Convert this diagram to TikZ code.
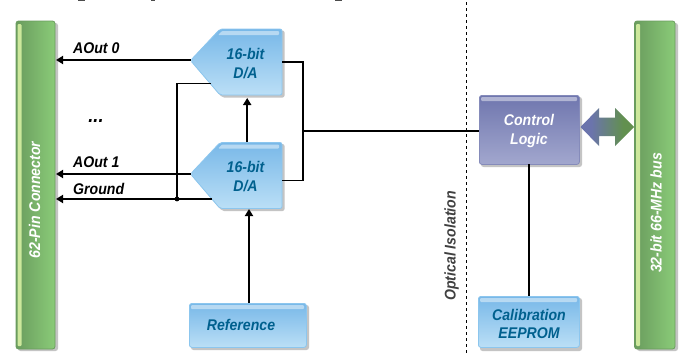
\documentclass[tikz,border=0pt]{standalone}
\usepackage{fontspec}
\setmainfont[FakeStretch=0.91]{Liberation Sans}
\usetikzlibrary{arrows.meta,calc}
\definecolor{bluetop}{HTML}{78B8E8}
\definecolor{bluebot}{HTML}{BBDFF6}
\definecolor{blueedge}{HTML}{8CC6EE}
\definecolor{bluetext}{HTML}{00608E}
\definecolor{shadowc}{HTML}{C4C4C4}
\definecolor{greenl}{HTML}{6A9C5E}
\definecolor{greenr}{HTML}{8ACB78}
\definecolor{greenhi}{HTML}{CDE89C}
\definecolor{purpt}{HTML}{6F76AE}
\definecolor{purpb}{HTML}{A2A7CE}
\definecolor{arrowp}{HTML}{6B74AC}
\definecolor{arrowg}{HTML}{62904F}
\pgfdeclarehorizontalshading{dblarrow}{100bp}{
  color(0bp)=(arrowp); color(35bp)=(arrowp); color(65bp)=(arrowg); color(100bp)=(arrowg)}
\newcommand{\labfont}{\fontsize{15.5}{19}\selectfont\bfseries\itshape}
\tikzset{
  x=1pt,y=-1pt,
  wire/.style={draw=black,line width=1.8pt},
  arrowed/.style={wire,-{Triangle[length=7pt,width=8pt]}},
  lab/.style={font=\labfont,inner sep=0pt},
  dacshape/.style={top color=bluetop,bottom color=bluebot,draw=blueedge,line width=.8pt,rounded corners=2pt},
  bluebox/.style={top color=bluetop,bottom color=bluebot,draw=blueedge,line width=.8pt,rounded corners=2.5pt,inner sep=0pt,
     font=\labfont,text=bluetext,align=center},
  purpbox/.style={top color=purpt,bottom color=purpb,draw=purpt!85!white,line width=.8pt,rounded corners=2.5pt,inner sep=0pt,
     font=\labfont,text=white,align=center},
  greenbar/.style={left color=greenl,right color=greenr,draw=greenl,line width=.8pt,rounded corners=2.5pt,inner sep=0pt},
  shine/.style={fill=white,opacity=.45,draw=none,rounded corners=1pt},
  barhi/.style={fill=greenhi,draw=none,rounded corners=1pt},
  barlabel/.style={font=\labfont,text=white,inner sep=0pt,rotate=90},
  shadowbox/.style={fill=shadowc,draw=none,rounded corners=2.5pt},
}
\newcommand{\dacunit}[2]{%
  \fill[shadowc,rounded corners=2pt] (192,#2+31.5+1.5) -- (222,#2+1.5) -- (284.5,#2+1.5) -- (284.5,#2+68.5) -- (222,#2+68.5) -- cycle;
  \path[dacshape] (190.5,#2+31.5) -- (220,#2) -- (282,#2) -- (282,#2+66) -- (220,#2+66) -- cycle;
  \fill[shine] (222,#2+2) -- (279,#2+2) -- (279,#2+6) -- (218,#2+6) -- cycle;
  \node[inner sep=0pt,minimum width=91.5pt,minimum height=66pt,anchor=north west] (#1) at (190.5,#2) {};
  \node[font=\labfont,text=bluetext,align=center,inner sep=0pt] (#1t) at (245.5,#2+34.5) {16-bit\\D/A};
}
\begin{document}
\begin{tikzpicture}
\useasboundingbox (0,0) rectangle (680,356);
\fill[white] (0,0) rectangle (680,356);
% remains of the cut-off top edge
\fill[black!70] (78,0) rectangle (85,1);
\fill[black!70] (151,0) rectangle (155,1.4);
\fill[black!70] (335,0) rectangle (342,1);
% connector bars
\fill[shadowbox] (18,23) rectangle (58,351);
\path[greenbar] (16,21) rectangle (55,349);
\fill[barhi] (17.5,24) rectangle (21.5,346);
\node[barlabel] (conn) at (34.5,200) {62-Pin Connector};
\coordinate (connA0) at (56,60);
\coordinate (connA1) at (56,174);
\coordinate (connG) at (56,199);
\fill[shadowbox] (637,23) rectangle (678,351);
\path[greenbar] (634.5,21) rectangle (675,349);
\fill[barhi] (636,24) rectangle (640,346);
\node[barlabel] (bus) at (656,213) {32-bit 66-MHz bus};
% DACs
\dacunit{dacA}{29}
\dacunit{dacB}{142.5}
% Reference
\fill[shadowbox] (191,305) rectangle (309,350);
\node[bluebox,minimum width=117pt,minimum height=44pt,anchor=north west] (ref) at (189,303) {};
\fill[shine] (191,305) rectangle (304,309);
\node[font=\labfont,text=bluetext,inner sep=0pt] (reft) at (241,325) {Reference};
% Control logic
\fill[shadowbox] (481,97) rectangle (582,167);
\node[purpbox,minimum width=100pt,minimum height=69pt,anchor=north west] (ctl) at (479,95) {};
\fill[shine] (481,97) rectangle (577,101);
\node[font=\labfont,text=white,align=center,inner sep=0pt] (ctlt) at (529,130.5) {Control\\Logic};
% EEPROM
\fill[shadowbox] (480,298) rectangle (582,351);
\node[bluebox,minimum width=101pt,minimum height=51pt,anchor=north west] (eep) at (478,296) {};
\fill[shine] (480,298) rectangle (577,302);
\node[font=\fontsize{15.5}{18}\selectfont\bfseries\itshape,text=bluetext,align=center,inner sep=0pt] (eept) at (529,324) {Calibration\\EEPROM};
% double arrow
\coordinate (dal) at (580.5,127);
\coordinate (dar) at (634,127);
\shade[shading=dblarrow]
  (dal) -- (599,108) -- (599,117.5) -- (615,117.5) -- (615,108) -- (dar) -- (615,146) -- (615,136) -- (599,136) -- (599,146) -- cycle;
% wires
\draw[arrowed] (190.5,60) -- (connA0);
\draw[arrowed] (190.5,174) -- (connA1);
\draw[arrowed] (212,199) -- (connG);
\draw[wire] (211,83.5) -- (177,83.5) -- (177,199);
\fill (177,199) circle (2.4pt);
\draw[arrowed] (247.2,142) -- (247.2,98);
\draw[arrowed] (249,303) -- (249,209);
\draw[wire] (282,62) -- (303,62) -- (303,180.5) -- (282,180.5);
\draw[wire] (303,131) -- (ctl.west |- 0,131);
\draw[wire] (529.2,164) -- (529.2,296);
% isolation
\coordinate (isoT) at (466.5,2);
\coordinate (isoB) at (466.5,356);
\draw[black,line width=.7pt,dash pattern=on 3pt off 3pt] (isoT) -- (isoB);
\node[lab,rotate=90,text=black!75] (iso) at (451.5,246) {Optical Isolation};
% labels
\node[lab,anchor=west] (l0) at (73,48) {AOut 0};
\node[lab,anchor=west] (l1) at (73,162.5) {AOut 1};
\node[lab,anchor=west] (l2) at (73,188.5) {Ground};
\node[font=\fontsize{20}{20}\selectfont\bfseries\itshape,inner sep=0pt,anchor=base] (dots) at (96,122) {...};
\end{tikzpicture}
\end{document}
